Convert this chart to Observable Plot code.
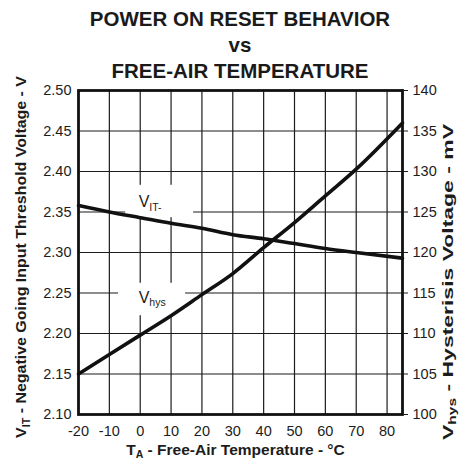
<!DOCTYPE html>
<html><head><meta charset="utf-8">
<script src="https://cdn.jsdelivr.net/npm/d3@7"></script>
<script src="https://cdn.jsdelivr.net/npm/@observablehq/plot@0.6"></script>
<style>
body{margin:0;background:#fff;font-family:"Liberation Sans",Arial,sans-serif;}
#title{height:84px;padding-top:6px;box-sizing:border-box;margin-left:78px;width:324px;white-space:nowrap;text-align:center;font-weight:bold;font-size:20.5px;line-height:26px;color:#1a1a1a;}
#chart svg{display:block;overflow:visible;}
</style></head><body>
<div id="title">POWER ON RESET BEHAVIOR<br>vs<br>FREE-AIR TEMPERATURE</div>
<div id="chart"></div>
<script>
const temps = [-20, -10, 0, 10, 20, 30, 40, 50, 60, 70, 85];
const vitValues = [2.358, 2.350, 2.343, 2.336, 2.330, 2.322, 2.317, 2.311, 2.305, 2.300, 2.293];
const vhysValues = [105.0, 107.4, 109.8, 112.2, 114.8, 117.4, 120.6, 123.7, 127.0, 130.3, 136.0];
const xTicks = [-20, -10, 0, 10, 20, 30, 40, 50, 60, 70, 80];
const vitTicks = [2.10, 2.15, 2.20, 2.25, 2.30, 2.35, 2.40, 2.45, 2.50];
const hysTicks = [100, 105, 110, 115, 120, 125, 130, 135, 140];
const seriesNames = ["V_{IT-}", "V_{hys}"];
const labelX = [-0.5, -0.5];
const labelY = [2.362, 2.244];
const boxX1 = [-4.7, -7.0], boxX2 = [17.3, 14.7];
const boxY1 = [2.343, 2.222], boxY2 = [2.383, 2.262];
const xTitle = "T_{A} - Free-Air Temperature - °C";
const leftTitle = "V_{IT} - Negative Going Input Threshold Voltage - V";
const rightTitle = "V_{hys} - Hysterisis Voltage - mV";

// map hysteresis (mV) onto the left voltage scale
const hysToV = h => 2.10 + (h - 100) / 100;

const vitRows = temps.map((t, i) => ({t, v: vitValues[i]}));
const hysRows = temps.map((t, i) => ({t, v: hysToV(vhysValues[i])}));
const labels = seriesNames.map((name, i) => ({name, x: labelX[i], y: labelY[i], x1: boxX1[i], x2: boxX2[i], y1: boxY1[i], y2: boxY2[i]}));

const ink = "#1c1c1c";
const chart = Plot.plot({
  width: 459,
  height: 380,
  marginTop: 6,
  marginBottom: 50,
  marginLeft: 78,
  marginRight: 57,
  style: {fontFamily: '"Liberation Sans", Arial, sans-serif', color: ink, background: "white"},
  x: {domain: [-20, 85], axis: null},
  y: {domain: [2.10, 2.50], axis: null},
  marks: [
    Plot.gridX(xTicks.filter(d => d > -20), {stroke: ink, strokeOpacity: 1, strokeWidth: 1.2}),
    Plot.gridY(vitTicks.filter(d => d > 2.10 && d < 2.50), {stroke: ink, strokeOpacity: 1, strokeWidth: 1.2}),
    Plot.rect(labels, {x1: "x1", x2: "x2", y1: "y1", y2: "y2", fill: "white"}),
    Plot.line(vitRows, {x: "t", y: "v", stroke: "#111", strokeWidth: 3.6, curve: "monotone-x"}),
    Plot.line(hysRows, {x: "t", y: "v", stroke: "#111", strokeWidth: 3.6, curve: "monotone-x"}),
    Plot.text(labels, {x: "x", y: "y", text: "name", textAnchor: "start", fontSize: 16, fill: ink}),
    Plot.frame({stroke: "#111", strokeWidth: 2.8}),
    Plot.axisX({ticks: xTicks, tickSize: 0, tickPadding: 11, fontSize: 14.5, tickFormat: d => String(d)}),
    Plot.axisY({ticks: vitTicks, tickSize: 0, tickPadding: 7, fontSize: 14.5, tickFormat: d => d.toFixed(2)}),
    Plot.axisY({anchor: "right", ticks: vitTicks, tickSize: 5, tickPadding: 5, fontSize: 14.5, tickFormat: (d, i) => String(hysTicks[i])}),
    Plot.text([xTitle], {frameAnchor: "bottom", textAnchor: "middle", dy: 40, dx: -5, fontSize: 15.5, fontWeight: "bold", fill: ink}),
    Plot.text([leftTitle], {frameAnchor: "left", textAnchor: "middle", rotate: -90, dx: -57, dy: 4.5, fontSize: 15.5, fontWeight: "bold", fill: ink}),
    Plot.text([rightTitle], {frameAnchor: "right", textAnchor: "middle", rotate: -90, dx: 46, dy: 29.5, fontSize: 15.5, fontWeight: "bold", fill: ink})
  ]
});

// target lengths (stretched lettering)
const stretch = new Map([[leftTitle, 362], [rightTitle, 316]]);

function richify(svg) {
  d3.select(svg).selectAll("text").each(function() {
    const t = this.textContent;
    if (!t.includes("_{")) return;
    const fs = parseFloat(getComputedStyle(this).fontSize) || 14;
    const el = d3.select(this);
    el.text(null);
    const parts = t.split(/_\{|\}/);
    let shift = 0;
    parts.forEach((p, i) => {
      const ts = el.append("tspan").text(p);
      if (i % 2 === 1) {
        shift = fs * (t === rightTitle ? 0.2 : 0.25);
        ts.attr("font-size", fs * 0.75).attr("dy", shift);
      } else if (shift) {
        ts.attr("dy", -shift);
        shift = 0;
      }
    });
    if (stretch.has(t)) el.attr("textLength", stretch.get(t)).attr("lengthAdjust", "spacingAndGlyphs");
  });
}
richify(chart);
document.getElementById("chart").appendChild(chart);
</script>
</body></html>
